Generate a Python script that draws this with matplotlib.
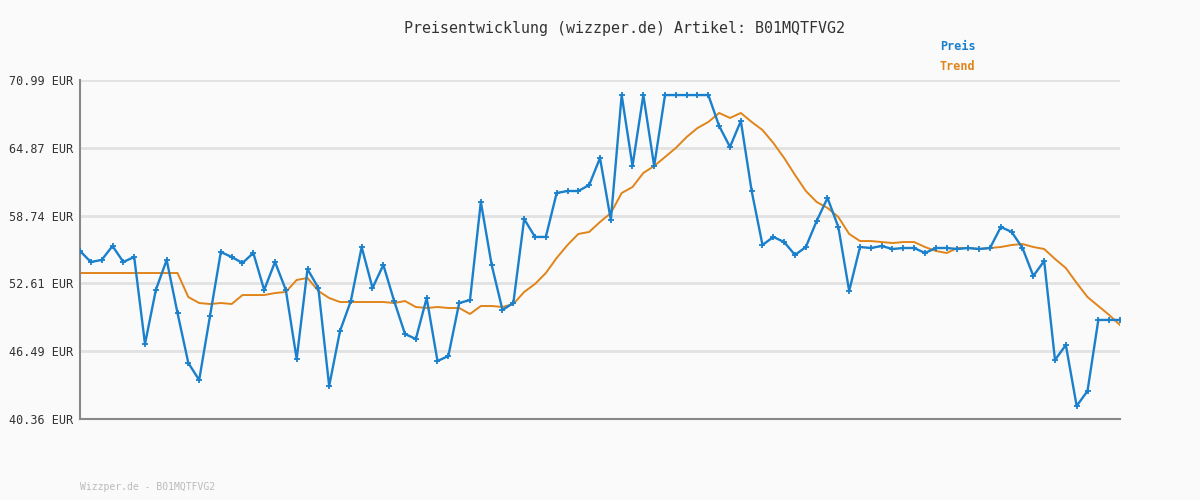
import matplotlib
matplotlib.use("Agg")
import matplotlib.pyplot as plt

preis = [55.54,54.55,54.73,55.99,54.55,55.00,47.14,52.02,54.73,49.94,
         45.42,43.88,49.67,55.45,55.00,54.46,55.36,52.02,54.55,52.02,
         45.78,53.91,52.20,43.34,48.31,51.02,55.90,52.20,54.28,51.02,
         48.04,47.59,51.29,45.60,46.05,50.84,51.11,59.97,54.28,50.21,
         50.84,58.43,56.81,56.81,60.78,60.96,60.96,61.50,63.94,58.34,
         69.63,63.22,69.63,63.22,69.63,69.63,69.63,69.63,69.63,66.83,
         64.94,67.29,60.96,56.08,56.81,56.35,55.18,55.90,58.25,60.33,
         57.71,51.93,55.90,55.81,55.99,55.72,55.81,55.81,55.36,55.81,
         55.81,55.72,55.81,55.72,55.81,57.71,57.26,55.81,53.28,54.64,
         45.69,47.05,41.54,42.89,49.31,49.31,49.31]
trend = [53.55]*10 + [51.38,50.84,50.75,50.84,50.75,51.56,51.56,51.56,51.74,51.84,
         52.92,53.10,51.93,51.29,50.93,50.93,50.93,50.93,50.93,50.84,
         51.02,50.48,50.39,50.48,50.39,50.39,49.85,50.57,50.57,50.48,
         50.75,51.84,52.56,53.55,54.91,56.08,57.08,57.26,58.16,58.97,
         60.78,61.32,62.59,63.22,64.03,64.85,65.84,66.65,67.20,68.01,
         67.56,68.01,67.20,66.47,65.30,63.94,62.41,60.96,59.97,59.43,
         58.61,57.08,56.44,56.44,56.35,56.26,56.35,56.35,55.90,55.54,
         55.36,55.81,55.81,55.72,55.81,55.90,56.08,56.17,55.90,55.72,
         54.82,54.00,52.65,51.38,50.57,49.76,48.85]
yticks = [40.36, 46.49, 52.61, 58.74, 64.87, 70.99]
title = "Preisentwicklung (wizzper.de) Artikel: B01MQTFVG2"

mono = "DejaVu Sans Mono"
fig = plt.figure(figsize=(12, 5), dpi=100, facecolor="#fafafa")
ax = fig.add_axes([80/1200, 1-419/500, 1040/1200, 339/500])
ax.set_facecolor("#fafafa")
x = list(range(len(preis)))
ax.plot(x, trend, color="#e0841a", lw=1.4, zorder=2)
ax.plot(x, preis, color="#1a80cc", lw=1.7, marker="+", ms=4, mew=1.3, zorder=3)
ax.set_xlim(0, len(preis)-1)
ax.set_ylim(yticks[0], yticks[-1])
ax.set_yticks(yticks)
ax.set_yticklabels([f"{v:.2f} EUR" for v in yticks], fontfamily=mono, fontsize=8.5, color="#333333")
ax.set_xticks([])
ax.grid(axis="y", color="#e2e2e2", lw=2)
ax.tick_params(axis="y", length=0, pad=5)
for s in ["top", "right"]:
    ax.spines[s].set_visible(False)
ax.spines["left"].set_color("#888888")
ax.spines["bottom"].set_color("#888888")
ax.spines["left"].set_linewidth(1.5)
ax.spines["bottom"].set_linewidth(1.5)
fig.text(624/1200, 1-28/500, title, ha="center", va="center", fontfamily=mono, fontsize=10.8, color="#333333")
fig.text(940/1200, 1-47/500, "Preis", ha="left", va="center", fontfamily=mono, fontsize=8.5, color="#1a80cc", fontweight="bold")
fig.text(940/1200, 1-67/500, "Trend", ha="left", va="center", fontfamily=mono, fontsize=8.5, color="#e0841a", fontweight="bold")
fig.text(80/1200, 1-487/500, "Wizzper.de - B01MQTFVG2", ha="left", va="center", fontfamily=mono, fontsize=7, color="#bbbbbb")
fig.savefig("out.png", dpi=100, facecolor=fig.get_facecolor())
